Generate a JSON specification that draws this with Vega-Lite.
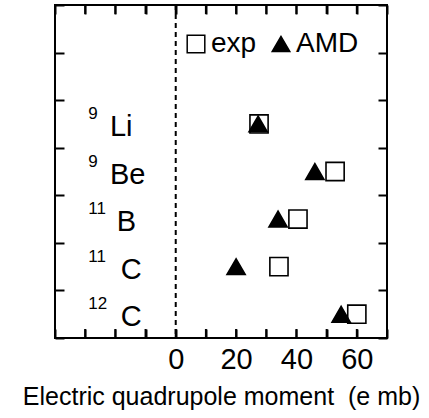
{
  "$schema": "https://vega.github.io/schema/vega-lite/v6.json",
  "width": 332,
  "height": 333,
  "autosize": "none",
  "padding": {"left": 55, "top": 5, "right": 42, "bottom": 80},
  "background": "white",
  "config": {
    "view": {"stroke": "black", "strokeWidth": 2},
    "font": "Liberation Sans",
    "axis": {"grid": false, "domain": false, "ticks": true, "tickColor": "black", "tickWidth": 2, "tickSize": 9, "offset": -9, "zindex": 2, "labelColor": "black", "titleColor": "black"}
  },
  "datasets": {
    "pts": [
      {"nucleus": "9Li", "series": "exp", "Q": 27.6},
      {"nucleus": "9Be", "series": "exp", "Q": 52.8},
      {"nucleus": "11B", "series": "exp", "Q": 40.5},
      {"nucleus": "11C", "series": "exp", "Q": 34.2},
      {"nucleus": "12C", "series": "exp", "Q": 60},
      {"nucleus": "9Li", "series": "AMD", "Q": 27.3},
      {"nucleus": "9Be", "series": "AMD", "Q": 46.1},
      {"nucleus": "11B", "series": "AMD", "Q": 33.9},
      {"nucleus": "11C", "series": "AMD", "Q": 20},
      {"nucleus": "12C", "series": "AMD", "Q": 54.8}
    ],
    "labels": [
      {"nucleus": "9Li", "mass": "9", "el": "Li"},
      {"nucleus": "9Be", "mass": "9", "el": "Be"},
      {"nucleus": "11B", "mass": "11", "el": "B"},
      {"nucleus": "11C", "mass": "11", "el": "C"},
      {"nucleus": "12C", "mass": "12", "el": "C"}
    ],
    "zero": [{"Q": 0}],
    "xt": [{"Q": -30}, {"Q": -20}, {"Q": -10}, {"Q": 0}, {"Q": 10}, {"Q": 20}, {"Q": 30}, {"Q": 40}, {"Q": 50}, {"Q": 60}]
  },
  "layer": [
    {
      "data": {"name": "zero"},
      "mark": {"type": "rule", "strokeDash": [5, 4], "strokeWidth": 2, "color": "black"},
      "encoding": {"x": {"field": "Q", "type": "quantitative", "axis": null}}
    },
    {
      "data": {"name": "xt"},
      "mark": {"type": "rule", "strokeWidth": 2, "color": "black"},
      "encoding": {
        "x": {"field": "Q", "type": "quantitative", "axis": null},
        "y": {"datum": 0, "type": "quantitative", "scale": {"domain": [0, 37], "nice": false, "zero": false}, "axis": null},
        "y2": {"datum": 1}
      }
    },
    {
      "data": {"name": "xt"},
      "mark": {"type": "rule", "strokeWidth": 2, "color": "black"},
      "encoding": {
        "x": {"field": "Q", "type": "quantitative", "axis": null},
        "y": {"datum": 36, "type": "quantitative", "scale": {"domain": [0, 37], "nice": false, "zero": false}, "axis": null},
        "y2": {"datum": 37}
      }
    },
    {
      "data": {"name": "pts"},
      "mark": {"type": "point", "filled": true, "stroke": "black", "strokeWidth": 1.6, "size": 330, "opacity": 1},
      "encoding": {
        "x": {
          "field": "Q", "type": "quantitative",
          "scale": {"domain": [-40, 70], "nice": false, "zero": false},
          "axis": {
            "orient": "bottom",
            "tickCount": 12,
            "labelExpr": "datum.value >= 0 && datum.value % 20 == 0 && datum.value < 70 ? datum.label : ''",
            "labelPadding": 7, "labelFontSize": 29, "labelFont": "Liberation Sans",
            "labelOverlap": false, "labelFlush": false,
            "title": "Electric quadrupole moment \u00a0(e mb)", "titleFontSize": 25, "titleFontWeight": "normal", "titleFont": "Liberation Sans", "titlePadding": 10
          }
        },
        "y": {
          "field": "nucleus", "type": "nominal",
          "scale": {"type": "band", "domain": ["top", "blank", "9Li", "9Be", "11B", "11C", "12C"], "paddingInner": 0, "paddingOuter": 0},
          "axis": {"orient": "left", "labels": false, "title": null, "tickBand": "extent"}
        },
        "shape": {
          "field": "series", "type": "nominal",
          "scale": {"domain": ["exp", "AMD"], "range": ["square", "triangle-up"]},
          "legend": {"title": null, "orient": "none", "legendX": 127, "legendY": 25, "direction": "horizontal", "labelFontSize": 28, "labelFont": "Liberation Sans", "labelColor": "black", "symbolSize": 310, "labelOffset": 1, "columnPadding": 10, "padding": 0,
            "encode": {"symbols": {"update": {"stroke": {"value": "black"}, "strokeWidth": {"value": 1.6}}}}}
        },
        "fill": {
          "field": "series", "type": "nominal",
          "scale": {"domain": ["exp", "AMD"], "range": ["white", "black"]},
          "legend": {"title": null, "orient": "none", "legendX": 127, "legendY": 25, "direction": "horizontal", "labelFontSize": 28, "labelFont": "Liberation Sans", "labelColor": "black", "symbolSize": 310, "labelOffset": 1, "columnPadding": 10, "padding": 0,
            "encode": {"symbols": {"update": {"stroke": {"value": "black"}, "strokeWidth": {"value": 1.6}}}}}
        }
      }
    },
    {
      "data": {"name": "pts"},
      "mark": {"type": "point", "opacity": 0},
      "encoding": {
        "x": {"field": "Q", "type": "quantitative", "axis": {"orient": "top", "tickCount": 12, "labels": false, "title": null}},
        "y": {"field": "nucleus", "type": "nominal",
          "scale": {"type": "band", "domain": ["top", "blank", "9Li", "9Be", "11B", "11C", "12C"], "paddingInner": 0, "paddingOuter": 0},
          "axis": {"orient": "right", "labels": false, "title": null, "tickBand": "extent"}}
      }
    },
    {
      "data": {"name": "labels"},
      "mark": {"type": "text", "align": "left", "baseline": "alphabetic", "fontSize": 17, "dy": -5, "color": "black", "font": "Liberation Sans"},
      "encoding": {
        "x": {"datum": -29, "type": "quantitative", "axis": null},
        "y": {"field": "nucleus", "type": "nominal", "scale": {"type": "band", "domain": ["top", "blank", "9Li", "9Be", "11B", "11C", "12C"], "paddingInner": 0, "paddingOuter": 0}, "axis": null},
        "text": {"field": "mass"}
      }
    },
    {
      "data": {"name": "labels"},
      "transform": [{"filter": "datum.mass == '9'"}],
      "mark": {"type": "text", "align": "left", "baseline": "alphabetic", "fontSize": 29, "dy": 12, "color": "black", "font": "Liberation Sans"},
      "encoding": {
        "x": {"datum": -21.8, "type": "quantitative", "axis": null},
        "y": {"field": "nucleus", "type": "nominal", "scale": {"type": "band", "domain": ["top", "blank", "9Li", "9Be", "11B", "11C", "12C"], "paddingInner": 0, "paddingOuter": 0}, "axis": null},
        "text": {"field": "el"}
      }
    },
    {
      "data": {"name": "labels"},
      "transform": [{"filter": "datum.el == 'B'"}],
      "mark": {"type": "text", "align": "left", "baseline": "alphabetic", "fontSize": 29, "dy": 12, "color": "black", "font": "Liberation Sans"},
      "encoding": {
        "x": {"datum": -19.5, "type": "quantitative", "axis": null},
        "y": {"field": "nucleus", "type": "nominal", "scale": {"type": "band", "domain": ["top", "blank", "9Li", "9Be", "11B", "11C", "12C"], "paddingInner": 0, "paddingOuter": 0}, "axis": null},
        "text": {"field": "el"}
      }
    },
    {
      "data": {"name": "labels"},
      "transform": [{"filter": "datum.el == 'C'"}],
      "mark": {"type": "text", "align": "left", "baseline": "alphabetic", "fontSize": 29, "dy": 12, "color": "black", "font": "Liberation Sans"},
      "encoding": {
        "x": {"datum": -18.2, "type": "quantitative", "axis": null},
        "y": {"field": "nucleus", "type": "nominal", "scale": {"type": "band", "domain": ["top", "blank", "9Li", "9Be", "11B", "11C", "12C"], "paddingInner": 0, "paddingOuter": 0}, "axis": null},
        "text": {"field": "el"}
      }
    }
  ],
  "resolve": {"axis": {"x": "independent", "y": "independent"}, "scale": {"y": "independent"}}
}
